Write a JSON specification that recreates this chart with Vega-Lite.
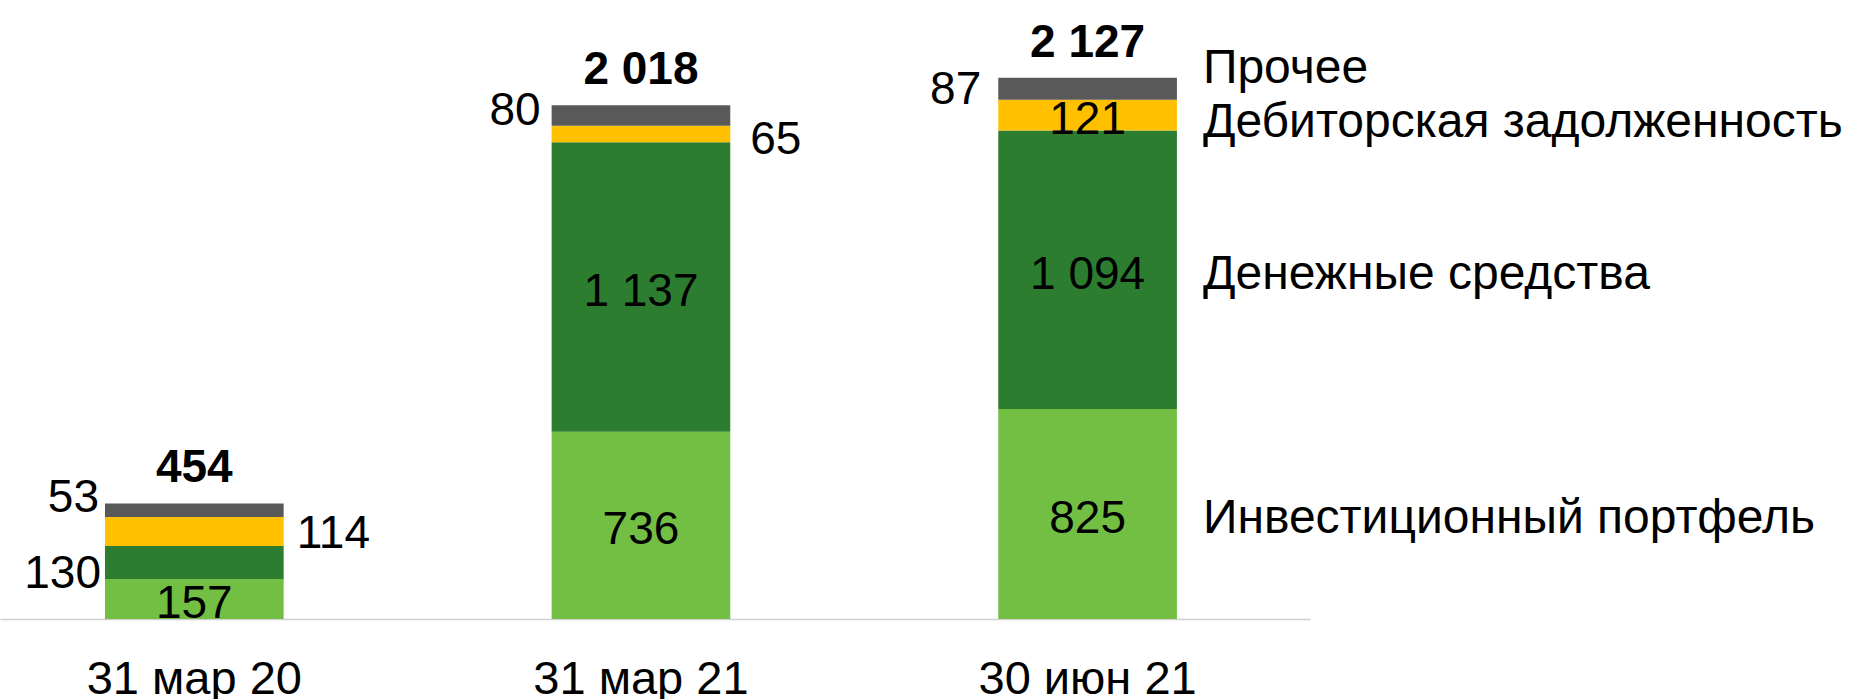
{
  "$schema": "https://vega.github.io/schema/vega-lite/v6.json",
  "width": 1310,
  "height": 619,
  "autosize": {"type": "none"},
  "padding": {"left": 0, "top": 0, "right": 542, "bottom": 80},
  "background": "white",
  "config": {
    "view": {"stroke": null},
    "font": "Liberation Sans",
    "locale": {"number": {"decimal": ",", "thousands": " ", "grouping": [3], "currency": ["", ""]}},
    "text": {"font": "Liberation Sans", "fontSize": 46, "color": "#000000"}
  },
  "data": {
    "values": [
      {"date": "31 мар 20", "series": "Инвестиционный портфель", "value": 157},
      {"date": "31 мар 20", "series": "Денежные средства", "value": 130},
      {"date": "31 мар 20", "series": "Дебиторская задолженность", "value": 114},
      {"date": "31 мар 20", "series": "Прочее", "value": 53},
      {"date": "31 мар 21", "series": "Инвестиционный портфель", "value": 736},
      {"date": "31 мар 21", "series": "Денежные средства", "value": 1137},
      {"date": "31 мар 21", "series": "Дебиторская задолженность", "value": 65},
      {"date": "31 мар 21", "series": "Прочее", "value": 80},
      {"date": "30 июн 21", "series": "Инвестиционный портфель", "value": 825},
      {"date": "30 июн 21", "series": "Денежные средства", "value": 1094},
      {"date": "30 июн 21", "series": "Дебиторская задолженность", "value": 121},
      {"date": "30 июн 21", "series": "Прочее", "value": 87}
    ]
  },
  "transform": [
    {"calculate": "indexof(['Инвестиционный портфель','Денежные средства','Дебиторская задолженность','Прочее'], datum.series)", "as": "k"},
    {"stack": "value", "groupby": ["date"], "sort": [{"field": "k", "order": "ascending"}], "as": ["v0", "v1"]},
    {"calculate": "(datum.v0 + datum.v1) / 2", "as": "vm"},
    {"joinaggregate": [{"op": "sum", "field": "value", "as": "total"}], "groupby": ["date"]}
  ],
  "layer": [
    {
      "mark": {"type": "bar"},
      "encoding": {
        "x": {
          "field": "date", "type": "nominal", "sort": ["31 мар 20", "31 мар 21", "30 июн 21"],
          "scale": {"paddingInner": 0.6, "paddingOuter": 0.2665, "align": 0.441},
          "axis": {"title": null, "labelAngle": 0, "ticks": false, "tickSize": 0, "labelFontSize": 47, "labelLimit": 600, "labelColor": "#000000", "labelFont": "Liberation Sans", "labelBaseline": "alphabetic", "labelPadding": 74, "domainColor": "#d0d0d0", "domainWidth": 1.5}
        },
        "y": {"field": "v0", "type": "quantitative", "scale": {"domain": [0, 2432], "nice": false, "zero": true}, "axis": null},
        "y2": {"field": "v1"},
        "color": {
          "field": "series", "type": "nominal",
          "scale": {"domain": ["Инвестиционный портфель", "Денежные средства", "Дебиторская задолженность", "Прочее"], "range": ["#72BF44", "#2D7D30", "#FFC000", "#595959"]},
          "legend": null
        }
      }
    },
    {
      "transform": [{"filter": "!((datum.date == '31 мар 20' && (datum.k == 1 || datum.k == 2 || datum.k == 3)) || (datum.date == '31 мар 21' && (datum.k == 2 || datum.k == 3)) || (datum.date == '30 июн 21' && datum.k == 3))"}],
      "mark": {"type": "text", "align": "center", "baseline": "middle", "dy": 5},
      "encoding": {
        "x": {"field": "date", "type": "nominal", "sort": ["31 мар 20", "31 мар 21", "30 июн 21"]},
        "y": {"field": "vm", "type": "quantitative"},
        "text": {"field": "value", "type": "quantitative", "format": ","}
      }
    },
    {
      "transform": [{"filter": "datum.date == '31 мар 20' && datum.k == 3"}],
      "mark": {"type": "text", "align": "right", "baseline": "middle", "dx": -6, "dy": -12},
      "encoding": {
        "x": {"field": "date", "type": "nominal", "sort": ["31 мар 20", "31 мар 21", "30 июн 21"], "bandPosition": 0},
        "y": {"field": "vm", "type": "quantitative"},
        "text": {"field": "value", "type": "quantitative", "format": ","}
      }
    },
    {
      "transform": [{"filter": "datum.date == '31 мар 20' && datum.k == 1"}],
      "mark": {"type": "text", "align": "right", "baseline": "middle", "dx": -4, "dy": 12},
      "encoding": {
        "x": {"field": "date", "type": "nominal", "sort": ["31 мар 20", "31 мар 21", "30 июн 21"], "bandPosition": 0},
        "y": {"field": "vm", "type": "quantitative"},
        "text": {"field": "value", "type": "quantitative", "format": ","}
      }
    },
    {
      "transform": [{"filter": "datum.date == '31 мар 21' && datum.k == 3"}],
      "mark": {"type": "text", "align": "right", "baseline": "middle", "dx": -11, "dy": -5},
      "encoding": {
        "x": {"field": "date", "type": "nominal", "sort": ["31 мар 20", "31 мар 21", "30 июн 21"], "bandPosition": 0},
        "y": {"field": "vm", "type": "quantitative"},
        "text": {"field": "value", "type": "quantitative", "format": ","}
      }
    },
    {
      "transform": [{"filter": "datum.date == '30 июн 21' && datum.k == 3"}],
      "mark": {"type": "text", "align": "right", "baseline": "middle", "dx": -17, "dy": 1},
      "encoding": {
        "x": {"field": "date", "type": "nominal", "sort": ["31 мар 20", "31 мар 21", "30 июн 21"], "bandPosition": 0},
        "y": {"field": "vm", "type": "quantitative"},
        "text": {"field": "value", "type": "quantitative", "format": ","}
      }
    },
    {
      "transform": [{"filter": "datum.date == '31 мар 20' && datum.k == 2"}],
      "mark": {"type": "text", "align": "left", "baseline": "middle", "dx": 13, "dy": 3},
      "encoding": {
        "x": {"field": "date", "type": "nominal", "sort": ["31 мар 20", "31 мар 21", "30 июн 21"], "bandPosition": 1},
        "y": {"field": "vm", "type": "quantitative"},
        "text": {"field": "value", "type": "quantitative", "format": ","}
      }
    },
    {
      "transform": [{"filter": "datum.date == '31 мар 21' && datum.k == 2"}],
      "mark": {"type": "text", "align": "left", "baseline": "middle", "dx": 20, "dy": 6},
      "encoding": {
        "x": {"field": "date", "type": "nominal", "sort": ["31 мар 20", "31 мар 21", "30 июн 21"], "bandPosition": 1},
        "y": {"field": "vm", "type": "quantitative"},
        "text": {"field": "value", "type": "quantitative", "format": ","}
      }
    },
    {
      "transform": [{"filter": "datum.k == 3"}],
      "mark": {"type": "text", "align": "center", "baseline": "alphabetic", "dy": -21, "fontWeight": "bold"},
      "encoding": {
        "x": {"field": "date", "type": "nominal", "sort": ["31 мар 20", "31 мар 21", "30 июн 21"]},
        "y": {"field": "v1", "type": "quantitative"},
        "text": {"field": "total", "type": "quantitative", "format": ","}
      }
    },
    {
      "transform": [{"filter": "datum.date == '30 июн 21' && datum.k <= 1"}],
      "mark": {"type": "text", "align": "left", "baseline": "middle", "dx": 26, "dy": 5, "fontSize": 48},
      "encoding": {
        "x": {"field": "date", "type": "nominal", "sort": ["31 мар 20", "31 мар 21", "30 июн 21"], "bandPosition": 1},
        "y": {"field": "vm", "type": "quantitative"},
        "text": {"field": "series", "type": "nominal"}
      }
    },
    {
      "transform": [{"filter": "datum.date == '30 июн 21' && datum.k == 2"}],
      "mark": {"type": "text", "align": "left", "baseline": "middle", "dx": 26, "dy": 8, "fontSize": 48},
      "encoding": {
        "x": {"field": "date", "type": "nominal", "sort": ["31 мар 20", "31 мар 21", "30 июн 21"], "bandPosition": 1},
        "y": {"field": "vm", "type": "quantitative"},
        "text": {"field": "series", "type": "nominal"}
      }
    },
    {
      "transform": [{"filter": "datum.date == '30 июн 21' && datum.k == 3"}],
      "mark": {"type": "text", "align": "left", "baseline": "middle", "dx": 26, "dy": -20, "fontSize": 48},
      "encoding": {
        "x": {"field": "date", "type": "nominal", "sort": ["31 мар 20", "31 мар 21", "30 июн 21"], "bandPosition": 1},
        "y": {"field": "vm", "type": "quantitative"},
        "text": {"field": "series", "type": "nominal"}
      }
    }
  ]
}
